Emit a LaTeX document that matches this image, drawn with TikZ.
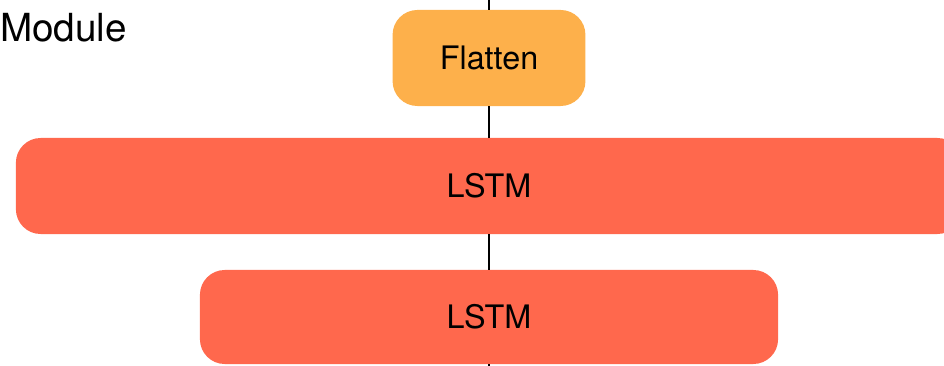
\documentclass[tikz,border=0pt]{standalone}
\usepackage{fontspec}
\setmainfont{TeX Gyre Heros}
\definecolor{flattenorange}{HTML}{FDB04B}
\definecolor{lstmred}{HTML}{FF684D}
\tikzset{
	layer/.style={rounded corners=0.62cm, inner sep=0pt, minimum height=2.4cm,
		font=\fontsize{23}{27}\selectfont},
	link/.style={black, line width=1.6pt}
}
\begin{document}
\begin{tikzpicture}[x=0.025cm, y=-0.025cm]
			\useasboundingbox (0, 0) rectangle (944, 366);

			\node[anchor=base west, inner sep=0pt, font=\fontsize{27.5}{32}\selectfont] (module) at (0, 42) {Module};

			\node[layer, fill=flattenorange, minimum width=4.82cm] (flatten) at (489, 58) {Flatten};
			\node[layer, fill=lstmred, minimum width=23.65cm] (lstmA) at (489, 186) {LSTM};
			\node[layer, fill=lstmred, minimum width=14.45cm, minimum height=2.35cm] (lstmB) at (489, 317) {LSTM};

			\coordinate (top) at (489, 0);
			\coordinate (bottom) at (489, 366);

			\draw[link]	(top) -- (flatten);
			\draw[link]	(flatten) -- (lstmA);
			\draw[link]	(lstmA) -- (lstmB);
			\draw[link]	(lstmB) -- (bottom);
		\end{tikzpicture}
\end{document}
